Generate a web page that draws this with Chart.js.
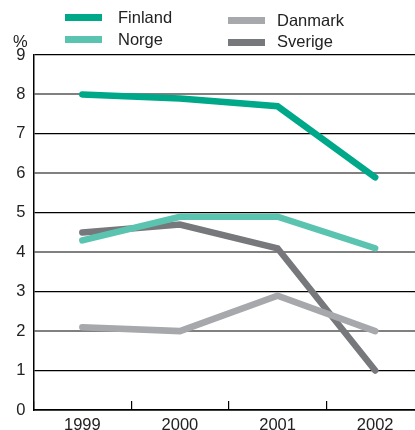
<!DOCTYPE html>
<html>
<head>
<meta charset="utf-8">
<script src="https://cdn.jsdelivr.net/npm/chart.js@4/dist/chart.umd.min.js"></script>
<style>
  html, body { margin: 0; padding: 0; background: #fff; overflow: hidden; }
  #wrap { position: relative; width: 415px; height: 430px; overflow: hidden; font-family: "Liberation Sans", Arial, sans-serif; }
  #box { position: absolute; left: 0; top: 0; width: 424px; height: 430px; }
  .lg { position: absolute; font-size: 16.5px; color: #222; line-height: 1; white-space: nowrap; }
  .sw { position: absolute; width: 37px; height: 7px; }
  #pct { position: absolute; left: 13px; top: 33px; font-size: 16.5px; color: #222; line-height: 1; }
</style>
</head>
<body>
<div id="wrap">
  <div id="box"><canvas id="c" width="424" height="430"></canvas></div>
  <div id="pct">%</div>
  <div id="legend"></div>
</div>
<script>
const categories = ["1999", "2000", "2001", "2002"];
const seriesNames = ["Finland", "Norge", "Danmark", "Sverige"];
const finland = [8.0, 7.9, 7.7, 5.9];
const norge   = [4.3, 4.9, 4.9, 4.1];
const danmark = [2.1, 2.0, 2.9, 2.0];
const sverige = [4.5, 4.7, 4.1, 1.0];
const yTicks = [0, 1, 2, 3, 4, 5, 6, 7, 8, 9];

const colors = ["#00a88a", "#5bc4b1", "#a7a8ab", "#77787b"];
const values = [finland, norge, danmark, sverige];

// legend (HTML), two columns
const legendPos = [
  { sx: 65, sy: 14, tx: 118, ty: 9 },
  { sx: 65, sy: 36, tx: 118, ty: 31 },
  { sx: 228, sy: 17, tx: 277, ty: 12 },
  { sx: 228, sy: 39, tx: 277, ty: 33 }
];
const lg = document.getElementById('legend');
seriesNames.forEach((n, i) => {
  const p = legendPos[i];
  const s = document.createElement('div');
  s.className = 'sw'; s.style.left = p.sx + 'px'; s.style.top = p.sy + 'px'; s.style.background = colors[i];
  const t = document.createElement('div');
  t.className = 'lg'; t.style.left = p.tx + 'px'; t.style.top = p.ty + 'px'; t.textContent = n;
  lg.appendChild(s); lg.appendChild(t);
});

new Chart(document.getElementById('c'), {
  type: 'line',
  data: {
    labels: categories,
    datasets: seriesNames.map((n, i) => ({
      label: n,
      data: values[i],
      borderColor: colors[i],
      backgroundColor: colors[i],
      borderWidth: 6.5,
      borderCapStyle: 'round',
      borderJoinStyle: 'miter',
      pointRadius: 0,
      pointHoverRadius: 0,
      tension: 0,
      fill: false
    }))
  },
  options: {
    responsive: false,
    animation: false,
    events: [],
    layout: { padding: { top: 55, left: 0, right: 0, bottom: 0 } },
    plugins: { legend: { display: false }, tooltip: { enabled: false }, title: { display: false } },
    scales: {
      x: {
        type: 'category',
        offset: true,
        grid: {
          offset: true,
          drawOnChartArea: false,
          drawTicks: true,
          tickLength: -9,
          color: '#000',
          lineWidth: 1.2
        },
        border: { display: true, color: '#000', width: 1.5 },
        ticks: {
          color: '#222',
          padding: 15,
          font: { family: "'Liberation Sans', Arial, sans-serif", size: 16.5 },
          maxRotation: 0
        },
        afterFit: (s) => { s.height = 20; }
      },
      y: {
        min: 0,
        max: 9,
        afterBuildTicks: (s) => { s.ticks = yTicks.map(v => ({ value: v })); },
        grid: {
          drawTicks: false,
          color: (ctx) => (ctx.tick && ctx.tick.value % 2 === 0) ? '#808080' : '#000',
          lineWidth: (ctx) => (ctx.tick && ctx.tick.value % 2 === 0) ? 2 : 1.3
        },
        border: { display: true, color: '#000', width: 1.5 },
        ticks: {
          color: '#222',
          padding: 8,
          font: { family: "'Liberation Sans', Arial, sans-serif", size: 16.5 }
        },
        afterFit: (s) => { s.width = 33.5; }
      }
    }
  }
});
</script>
</body>
</html>
